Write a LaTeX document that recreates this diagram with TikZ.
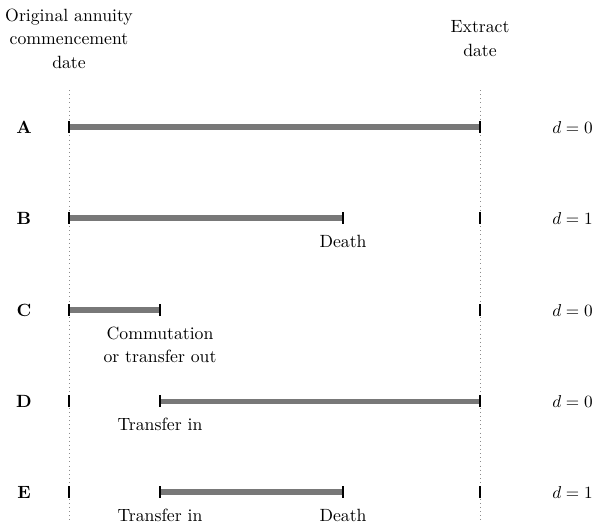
\documentclass[tikz,border=0pt]{standalone}
\usepackage{xcolor}
\usetikzlibrary{positioning}
\definecolor{bargray}{HTML}{787878}
\definecolor{guidegray}{HTML}{8C8C8C}

\begin{document}
\begin{tikzpicture}[
  font=\fontsize{10.3}{13.6}\selectfont,
  tick/.style={fill=black, inner sep=0pt, minimum width=1.5pt, minimum height=7pt},
  bar/.style={bargray, line width=3pt},
  guide/.style={guidegray, dotted, line width=0.4pt},
  note/.style={align=center, inner sep=0pt}
]
  \useasboundingbox (0,0) rectangle (12.16,10.69);
  % Date labels
  \node[note] (startdate) at (1.41,9.90) {Original annuity\\commencement\\date};
  \node[note] (extractdate) at (9.81,9.90) {Extract\\date};
  % Guides
  \coordinate (start-top) at (1.41,8.85);
  \coordinate (start-bot) at (1.41,0);
  \coordinate (extract-top) at (9.81,8.85);
  \coordinate (extract-bot) at (9.81,0);
  \draw[guide] (start-top) -- (start-bot);
  \draw[guide] (extract-top) -- (extract-bot);
  % Rows
  \foreach \r/\y/\d in {A/8.093/0, B/6.233/1, C/4.353/0, D/2.493/0, E/0.634/1} {
    \node (\r) at (0.49,\y) {\textbf{\r}};
    \node (d\r) at (11.70,\y) {$d=\d$};
    \coordinate (\r-0) at (1.41,\y);
    \coordinate (\r-1) at (3.27,\y);
    \coordinate (\r-2) at (7.01,\y);
    \coordinate (\r-3) at (9.81,\y);
  }
  % Time spans
  \draw[bar] (A-0) -- (A-3);
  \draw[bar] (B-0) -- (B-2);
  \draw[bar] (C-0) -- (C-1);
  \draw[bar] (D-1) -- (D-3);
  \draw[bar] (E-1) -- (E-2);
  % Ticks
  \foreach \t in {A-0,A-3,B-0,B-2,B-3,C-0,C-1,C-3,D-0,D-1,D-3,E-0,E-1,E-2,E-3}
    \node[tick] (tick\t) at (\t) {};
  % Events
  \node[note, below=9.5pt of B-2] (deathB) {Death};
  \node[note, below=9.5pt of C-1] (outC) {Commutation\\or transfer out};
  \node[note, below=9.5pt of D-1] (inD) {Transfer in};
  \node[note, below=9.5pt of E-1] (inE) {Transfer in};
  \node[note, below=9.5pt of E-2] (deathE) {Death};
\end{tikzpicture}
\end{document}
